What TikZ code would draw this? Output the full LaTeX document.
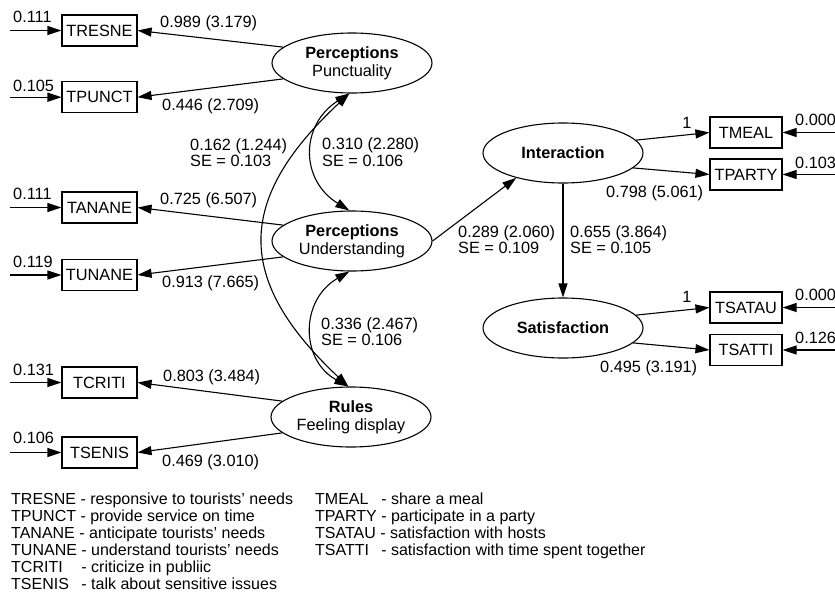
\documentclass[tikz,border=0pt]{standalone}
\usepackage{fontspec}
\setmainfont{Liberation Sans}
\usetikzlibrary{arrows.meta,shapes.geometric}
\begin{document}
\begin{tikzpicture}[x=1pt,y=-1pt,
  font=\fontsize{16.3}{18}\selectfont,
  lw/.style={line width=1.1pt},
  obs/.style={draw,lw,minimum width=75pt,minimum height=31pt,inner sep=0pt},
  obsr/.style={obs,minimum width=72pt},
  lat/.style={draw,lw,ellipse,minimum width=160pt,minimum height=60pt,inner sep=0pt,align=center},
  load/.style={lw,-{Triangle[length=14pt,width=9pt]}},
  corr/.style={lw,{Triangle[length=14pt,width=9pt]}-{Triangle[length=14pt,width=9pt]}},
  lab/.style={anchor=base west,inner sep=0pt},
  key/.style={anchor=base west,inner sep=0pt,font=\fontsize{16}{18}\selectfont},
]
\useasboundingbox (0,0) rectangle (835,592);

% latent constructs
\node[lat] (punct) at (352,63)  {\textbf{Perceptions}\\Punctuality};
\node[lat] (und)   at (352,241) {\textbf{Perceptions}\\Understanding};
\node[lat] (rules) at (351,417) {\textbf{Rules}\\Feeling display};
\node[lat] (inter) at (563,153) {\textbf{Interaction}};
\node[lat] (satis) at (563,328) {\textbf{Satisfaction}};

% observed indicators, left
\node[obs] (tresne) at (99.5,30.5)  {TRESNE};
\node[obs] (tpunct) at (99.5,97.2)  {TPUNCT};
\node[obs] (tanane) at (99.5,207.5) {TANANE};
\node[obs] (tunane) at (99.5,275)   {TUNANE};
\node[obs] (tcriti) at (99.5,382.5) {TCRITI};
\node[obs] (tsenis) at (99.5,452.5) {TSENIS};

% observed indicators, right
\node[obsr] (tmeal)  at (746,132.5) {TMEAL};
\node[obsr] (tparty) at (746,174.5) {TPARTY};
\node[obsr] (tsatau) at (746,307.5) {TSATAU};
\node[obsr] (tsatti) at (746,350)   {TSATTI};

% error terms
\coordinate (e-tresne) at (10,30.5);
\coordinate (e-tpunct) at (10,97.2);
\coordinate (e-tanane) at (10,207.5);
\coordinate (e-tunane) at (10,275);
\coordinate (e-tcriti) at (10,382.5);
\coordinate (e-tsenis) at (10,452.5);
\coordinate (e-tmeal)  at (835,132.5);
\coordinate (e-tparty) at (835,174.5);
\coordinate (e-tsatau) at (835,307.5);
\coordinate (e-tsatti) at (835,350);
\foreach \b in {tresne,tpunct,tanane,tunane,tcriti,tsenis}
  \draw[load] (e-\b) -- (\b.west);
\foreach \b in {tmeal,tparty,tsatau,tsatti}
  \draw[load] (e-\b) -- (\b.east);

% loadings
\draw[load] (punct.167) -- (tresne.east);
\draw[load] (punct.193) -- (tpunct.east);
\draw[load] (und.167)   -- (tanane.east);
\draw[load] (und.193)   -- (tunane.east);
\draw[load] (rules.167) -- (tcriti.east);
\draw[load] (rules.193) -- (tsenis.east);
\draw[load] (inter.10)  -- (tmeal.west);
\draw[load] (inter.348) -- (tparty.west);
\draw[load] (satis.10)  -- (tsatau.west);
\draw[load] (satis.348) -- (tsatti.west);

% structural paths
\draw[load] (und.east) -- (inter.208);
\draw[load] (inter.south) -- (satis.north);

% correlations
\draw[corr] (punct.265) .. controls (235,200) and (235,280) .. (rules.95);
\draw[corr] (punct.265) .. controls (300,125) and (300,180) .. (und.95);
\draw[corr] (und.265) .. controls (300,300) and (300,360) .. (rules.95);

% error variances
\node[lab] (v1) at (13,22)   {0.111};
\node[lab] (v2) at (13,91)   {0.105};
\node[lab] (v3) at (13,199)  {0.111};
\node[lab] (v4) at (13,267)  {0.119};
\node[lab] (v5) at (13,375)  {0.131};
\node[lab] (v6) at (13,443)  {0.106};
\node[lab] (v7) at (795,125) {0.000};
\node[lab] (v8) at (795,168) {0.103};
\node[lab] (v9) at (795,300) {0.000};
\node[lab] (v10) at (795,343) {0.126};

% loading estimates
\node[lab] (w1) at (160,27)  {0.989 (3.179)};
\node[lab] (w2) at (162,110) {0.446 (2.709)};
\node[lab] (w3) at (160,204) {0.725 (6.507)};
\node[lab] (w4) at (162,287) {0.913 (7.665)};
\node[lab] (w5) at (163,381) {0.803 (3.484)};
\node[lab] (w6) at (162,466) {0.469 (3.010)};
\node[anchor=base,inner sep=0pt] (w7) at (687,128) {1};
\node[lab] (w8) at (606,197) {0.798 (5.061)};
\node[anchor=base,inner sep=0pt] (w9) at (687,302) {1};
\node[lab] (w10) at (600,372) {0.495 (3.191)};

% structural and correlation estimates
\node[lab] (c1a) at (190,150) {0.162 (1.244)};
\node[lab] (c1b) at (190,166) {SE = 0.103};
\node[lab] (c2a) at (322,149) {0.310 (2.280)};
\node[lab] (c2b) at (322,166) {SE = 0.106};
\node[lab] (c3a) at (321,329) {0.336 (2.467)};
\node[lab] (c3b) at (321,345) {SE = 0.106};
\node[lab] (s1a) at (458,237) {0.289 (2.060)};
\node[lab] (s1b) at (458,253) {SE = 0.109};
\node[lab] (s2a) at (570,237) {0.655 (3.864)};
\node[lab] (s2b) at (570,253) {SE = 0.105};

% legend
\node[key] (k1) at (11,504) {TRESNE - responsive to tourists’ needs};
\node[key] (k2) at (11,521) {TPUNCT - provide service on time};
\node[key] (k3) at (11,538) {TANANE - anticipate tourists’ needs};
\node[key] (k4) at (11,555) {TUNANE - understand tourists’ needs};
\node[key] (k5) at (11,572) {\rlap{TCRITI}\phantom{TUNANE} - criticize in publiic};
\node[key] (k6) at (11,589) {\rlap{TSENIS}\phantom{TUNANE} - talk about sensitive issues};
\node[key] (k7) at (315,504) {\rlap{TMEAL}\phantom{TPARTY} - share a meal};
\node[key] (k8) at (315,521) {TPARTY - participate in a party};
\node[key] (k9) at (315,538) {TSATAU - satisfaction with hosts};
\node[key] (k10) at (315,555) {\rlap{TSATTI}\phantom{TPARTY} - satisfaction with time spent together};
\end{tikzpicture}
\end{document}
